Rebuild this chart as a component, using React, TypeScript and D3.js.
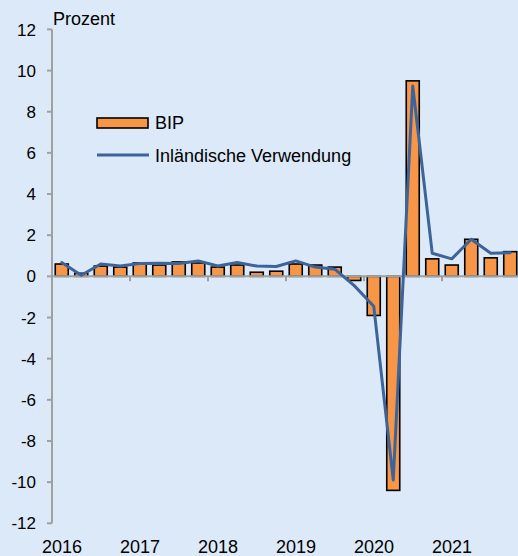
import React from "react";
import * as d3 from "d3";

const quarters = [
  "2016Q1","2016Q2","2016Q3","2016Q4",
  "2017Q1","2017Q2","2017Q3","2017Q4",
  "2018Q1","2018Q2","2018Q3","2018Q4",
  "2019Q1","2019Q2","2019Q3","2019Q4",
  "2020Q1","2020Q2","2020Q3","2020Q4",
  "2021Q1","2021Q2","2021Q3","2021Q4",
];
const bip = [0.6, 0.15, 0.5, 0.45, 0.65, 0.55, 0.7, 0.65, 0.45, 0.55, 0.2, 0.25, 0.6, 0.55, 0.45, -0.2, -1.9, -10.4, 9.5, 0.85, 0.55, 1.8, 0.9, 1.2];
const inlVerwendung = [0.67, 0.05, 0.6, 0.5, 0.62, 0.64, 0.62, 0.75, 0.5, 0.67, 0.5, 0.48, 0.75, 0.45, 0.35, -0.45, -1.45, -9.9, 9.25, 1.12, 0.85, 1.8, 1.12, 1.15];
const yearLabels = ["2016", "2017", "2018", "2019", "2020", "2021"];
const yTicks = [12, 10, 8, 6, 4, 2, 0, -2, -4, -6, -8, -10, -12];

const W = 518;
const H = 556;
const BG = "#DCE9F8";
const ORANGE = "#F79646";
const BLUE = "#3C649A";
const AXIS = "#A0A0A0";
const FONT = "Arial, 'Liberation Sans', Helvetica, sans-serif";

export default function App() {
  const x = d3.scaleLinear().domain([0, quarters.length]).range([52, 520]);
  const y = d3.scaleLinear().domain([-12, 12]).range([523.3, 29.4]);
  const barW = 13;
  const line = d3
    .line<number>()
    .x((_, i) => x(i + 0.5))
    .y((d) => y(d));

  return (
    <svg
      width={W}
      height={H}
      style={{ position: "absolute", left: 0, top: 0, display: "block" }}
      fontFamily={FONT}
    >
      <rect x={0} y={0} width={W} height={H} fill={BG} />

      {/* bars */}
      {bip.map((v, i) => (
        <rect
          key={quarters[i]}
          x={x(i + 0.5) - barW / 2}
          y={Math.min(y(v), y(0))}
          width={barW}
          height={Math.abs(y(v) - y(0))}
          fill={ORANGE}
          stroke="#000"
          strokeWidth={1.6}
        />
      ))}

      {/* y axis */}
      <line x1={x(0)} x2={x(0)} y1={y(12)} y2={y(-12)} stroke={AXIS} strokeWidth={2} />
      {yTicks.map((t) => (
        <g key={t}>
          <line x1={x(0) - 5} x2={x(0)} y1={y(t)} y2={y(t)} stroke={AXIS} strokeWidth={2} />
          <text x={36} y={y(t)} dy="0.36em" textAnchor="end" fontSize={17} fill="#000">
            {t}
          </text>
        </g>
      ))}

      {/* x axis at zero */}
      <line x1={x(0)} x2={x(quarters.length)} y1={y(0)} y2={y(0)} stroke={AXIS} strokeWidth={2} />
      {yearLabels.map((lab, k) => (
        <g key={lab}>
          <line x1={x(k * 4)} x2={x(k * 4)} y1={y(0)} y2={y(0) + 5} stroke={AXIS} strokeWidth={2} />
          <text x={x(k * 4) + 10} y={553} textAnchor="middle" fontSize={18} fill="#000">
            {lab}
          </text>
        </g>
      ))}

      {/* line */}
      <path
        d={line(inlVerwendung) || ""}
        fill="none"
        stroke={BLUE}
        strokeWidth={3}
        strokeLinejoin="round"
        strokeLinecap="round"
      />

      <text x={53} y={25} fontSize={18} fill="#000">
        Prozent
      </text>

      {/* legend */}
      <rect x={97} y={118} width={51} height={10} fill={ORANGE} stroke="#000" strokeWidth={1.6} />
      <text x={155} y={128.5} fontSize={18} fill="#000">
        BIP
      </text>
      <line x1={97} x2={149} y1={155} y2={155} stroke={BLUE} strokeWidth={3} />
      <text x={155} y={161.5} fontSize={18} fill="#000">
        Inländische Verwendung
      </text>
    </svg>
  );
}
